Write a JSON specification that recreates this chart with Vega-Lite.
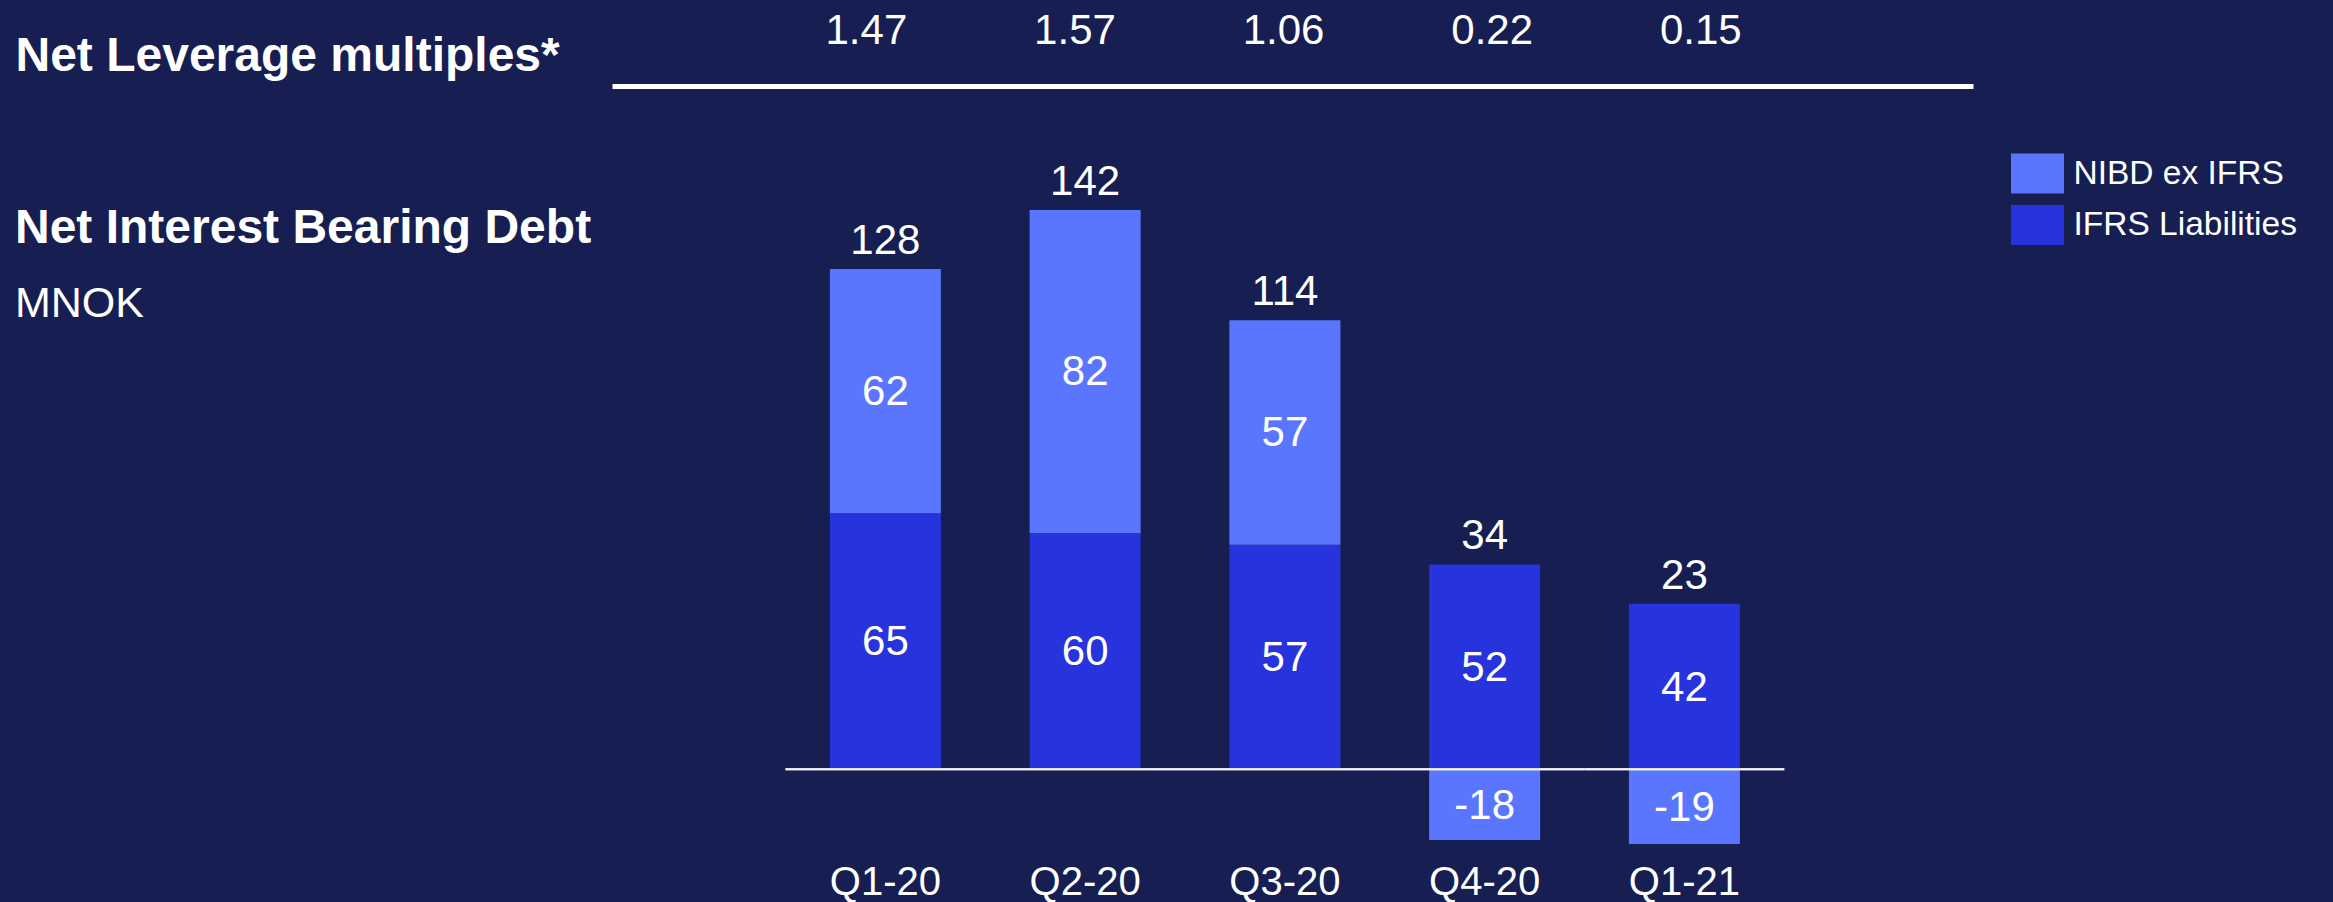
{
  "$schema": "https://vega.github.io/schema/vega-lite/v6.json",
  "background": "#161e52",
  "padding": {"left": 15, "top": 0, "right": 22, "bottom": 0},
  "bounds": "flush",
  "spacing": 53,
  "config": {
    "font": "Liberation Sans",
    "view": {"stroke": null},
    "axis": {"grid": false}
  },
  "resolve": {"scale": {"x": "independent", "y": "independent", "color": "independent"}, "axis": {"x": "independent", "y": "independent"}},
  "datasets": {
    "leverage": [
      {"quarter": "Q1-20", "metric": "Net Leverage multiples*", "leverage": 1.47},
      {"quarter": "Q2-20", "metric": "Net Leverage multiples*", "leverage": 1.57},
      {"quarter": "Q3-20", "metric": "Net Leverage multiples*", "leverage": 1.06},
      {"quarter": "Q4-20", "metric": "Net Leverage multiples*", "leverage": 0.22},
      {"quarter": "Q1-21", "metric": "Net Leverage multiples*", "leverage": 0.15}
    ],
    "nibd": [
      {"quarter": "Q1-20", "series": "IFRS Liabilities", "value": 65, "total": 128},
      {"quarter": "Q1-20", "series": "NIBD ex IFRS", "value": 62, "total": 128},
      {"quarter": "Q2-20", "series": "IFRS Liabilities", "value": 60, "total": 142},
      {"quarter": "Q2-20", "series": "NIBD ex IFRS", "value": 82, "total": 142},
      {"quarter": "Q3-20", "series": "IFRS Liabilities", "value": 57, "total": 114},
      {"quarter": "Q3-20", "series": "NIBD ex IFRS", "value": 57, "total": 114},
      {"quarter": "Q4-20", "series": "IFRS Liabilities", "value": 52, "total": 34},
      {"quarter": "Q4-20", "series": "NIBD ex IFRS", "value": -18, "total": 34},
      {"quarter": "Q1-21", "series": "IFRS Liabilities", "value": 42, "total": 23},
      {"quarter": "Q1-21", "series": "NIBD ex IFRS", "value": -19, "total": 23}
    ]
  },
  "vconcat": [
    {
      "width": 1361,
      "height": 86,
      "data": {"name": "leverage"},
      "mark": {"type": "text", "fontSize": 42, "color": "#ffffff", "baseline": "alphabetic", "dy": 1},
      "encoding": {
        "x": {
          "field": "quarter", "type": "nominal", "sort": null,
          "scale": {"type": "band", "domain": ["Q1-20", "Q2-20", "Q3-20", "Q4-20", "Q1-21"], "paddingInner": 0, "paddingOuter": 0.762, "align": 0.472, "round": false},
          "axis": {"orient": "bottom", "labels": false, "ticks": false, "domain": true, "domainColor": "#ffffff", "domainWidth": 5, "title": null}
        },
        "y": {
          "field": "metric", "type": "nominal",
          "scale": {"type": "band", "paddingInner": 0, "paddingOuter": 0},
          "axis": {"title": null, "domain": false, "ticks": false, "tickSize": 0, "labelAlign": "left", "labelBaseline": "alphabetic", "labelOffset": 28, "labelPadding": 597, "labelFontSize": 48, "labelFontWeight": "bold", "labelColor": "#ffffff", "labelLimit": 1000}
        },
        "text": {"field": "leverage", "type": "quantitative", "format": ".2f"}
      }
    },
    {
      "width": 1361,
      "height": 709,
      "data": {"name": "nibd"},
      "title": {
        "text": "Net Interest Bearing Debt", "subtitle": "MNOK",
        "anchor": "start", "frame": "group", "orient": "top", "offset": 0,
        "dx": -597, "dy": 187,
        "font": "Liberation Sans", "fontSize": 48, "fontWeight": "bold", "color": "#ffffff",
        "subtitleFont": "Liberation Sans", "subtitleFontSize": 43, "subtitleFontWeight": "normal", "subtitleColor": "#ffffff", "subtitlePadding": 30
      },
      "encoding": {
        "x": {
          "field": "quarter", "type": "nominal", "sort": null,
          "scale": {"type": "band", "domain": ["Q1-20", "Q2-20", "Q3-20", "Q4-20", "Q1-21"], "paddingInner": 0, "paddingOuter": 0.9067, "align": 0.479, "round": false},
          "axis": {"orient": "bottom", "domain": false, "ticks": false, "tickSize": 0, "labelPadding": 14, "labelFontSize": 40, "labelColor": "#ffffff", "labelAngle": 0, "labelBaseline": "top", "title": null}
        }
      },
      "layer": [
        {
          "mark": {"type": "bar", "width": {"band": 0.5557}},
          "encoding": {
            "y": {"field": "value", "type": "quantitative", "stack": "zero", "scale": {"domain": [-20, 160], "nice": false, "zero": false}, "axis": null},
            "order": {"field": "series", "type": "nominal", "sort": "ascending"},
            "color": {
              "field": "series", "type": "nominal",
              "scale": {"domain": ["NIBD ex IFRS", "IFRS Liabilities"], "range": ["#5a76ff", "#2733dc"]},
              "legend": {"orient": "right", "title": null, "symbolType": "M-1.325,-1H1.325V1H-1.325Z", "symbolSize": 1600, "symbolStrokeWidth": 0, "symbolOpacity": 1, "labelFontSize": 33.5, "labelColor": "#ffffff", "labelFont": "Liberation Sans", "labelOffset": 16, "labelLimit": 500, "rowPadding": 11.5, "padding": 14.5, "offset": 30}
            }
          }
        },
        {
          "mark": {"type": "bar", "width": {"band": 1}, "color": "#f2f2f7"},
          "encoding": {
            "y": {"datum": 0.25, "type": "quantitative"},
            "y2": {"datum": -0.25}
          }
        },
        {
          "mark": {"type": "text", "fontSize": 42, "color": "#ffffff", "baseline": "middle", "dy": 1},
          "encoding": {
            "y": {"field": "value", "type": "quantitative", "stack": "zero", "bandPosition": 0.5},
            "detail": {"field": "series", "type": "nominal"},
            "order": {"field": "series", "type": "nominal", "sort": "ascending"},
            "text": {"field": "value", "type": "nominal"}
          }
        },
        {
          "transform": [
            {"filter": "datum.value > 0"},
            {"aggregate": [{"op": "sum", "field": "value", "as": "top"}, {"op": "max", "field": "total", "as": "total"}], "groupby": ["quarter"]}
          ],
          "mark": {"type": "text", "fontSize": 42, "color": "#ffffff", "baseline": "alphabetic", "dy": -15},
          "encoding": {
            "y": {"field": "top", "type": "quantitative"},
            "text": {"field": "total", "type": "nominal"}
          }
        }
      ]
    }
  ]
}
